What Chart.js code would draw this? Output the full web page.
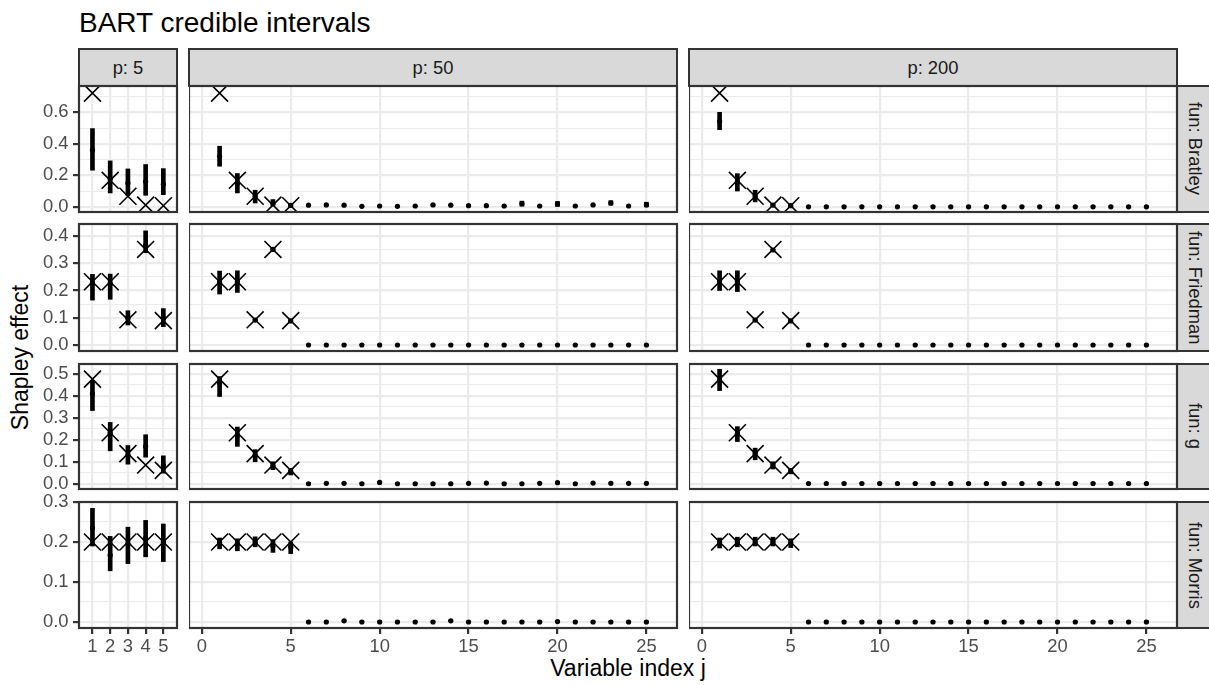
<!DOCTYPE html>
<html><head><meta charset="utf-8">
<script src="https://cdn.jsdelivr.net/npm/chart.js@4/dist/chart.umd.min.js"></script>
<style>
html,body{margin:0;padding:0;background:#fff;}
body{width:1209px;height:685px;overflow:hidden;position:relative;font-family:"Liberation Sans",Arial,Helvetica,sans-serif;}
.abs{position:absolute;white-space:nowrap;}
canvas{position:absolute;}
.strip{position:absolute;background:#D9D9D9;border:2.2px solid #333333;box-sizing:border-box;color:#1A1A1A;font-size:18.4px;display:flex;align-items:center;justify-content:center;overflow:hidden;white-space:nowrap;}
.vstrip{writing-mode:vertical-rl;}
</style></head><body>
<div class="abs" style="left:79px;top:9px;font-size:28px;line-height:28px;color:#000;">BART credible intervals</div>
<div class="abs" style="left:428px;top:657px;width:400px;text-align:center;font-size:23px;line-height:23px;color:#000;">Variable index j</div>
<div class="abs" style="left:-130px;top:345.5px;width:300px;height:23px;text-align:center;font-size:23px;line-height:23px;color:#000;transform:rotate(-90deg);">Shapley effect</div>
<script>
// ---------- data ----------
const facetP = [5, 50, 200];
const facetFun = ['Bratley', 'Friedman', 'g', 'Morris'];
const xIdx5 = [1, 2, 3, 4, 5];
const xIdx25 = [1, 2, 3, 4, 5, 6, 7, 8, 9, 10, 11, 12, 13, 14, 15, 16, 17, 18, 19, 20, 21, 22, 23, 24, 25];
const xTicks5 = [1, 2, 3, 4, 5];
const xTicks25 = [0, 5, 10, 15, 20, 25];
const xRange5 = [0.24, 5.77];
const xRange25 = [-0.72, 26.72];

const yMajorBratley = [0, 0.2, 0.4, 0.6];
const yMinorBratley = [0.1, 0.3, 0.5, 0.7];
const yMajorFriedman = [0, 0.1, 0.2, 0.3, 0.4];
const yMinorFriedman = [0.05, 0.15, 0.25, 0.35];
const yMajorG = [0, 0.1, 0.2, 0.3, 0.4, 0.5];
const yMinorG = [0.05, 0.15, 0.25, 0.35, 0.45];
const yMajorMorris = [0, 0.1, 0.2, 0.3];
const yMinorMorris = [0.05, 0.15, 0.25];
const yRangeBratley = [-0.032, 0.767];
const yRangeFriedman = [-0.021, 0.443];
const yRangeG = [-0.024, 0.545];
const yRangeMorris = [-0.015, 0.300];

// true Shapley effects (crosses)
const trueBratley = [0.722, 0.169, 0.068, 0.012, 0.008];
const trueFriedman = [0.232, 0.232, 0.093, 0.350, 0.090];
const trueG = [0.476, 0.232, 0.137, 0.085, 0.061];
const trueMorris = [0.200, 0.200, 0.200, 0.200, 0.200];

// BART posterior means and credible intervals
const meanBratley5 = [0.360, 0.180, 0.152, 0.161, 0.144];
const loBratley5 = [0.233, 0.089, 0.074, 0.074, 0.078];
const hiBratley5 = [0.497, 0.292, 0.241, 0.269, 0.243];
const meanBratley50 = [0.321, 0.150, 0.068, 0.020, 0.010, 0.011, 0.013, 0.011, 0.004, 0.006, 0.004, 0.006, 0.013, 0.011, 0.008, 0.008, 0.006, 0.021, 0.006, 0.019, 0.006, 0.013, 0.025, 0.006, 0.013];
const loBratley50 = [0.258, 0.089, 0.025, 0.000, 0.004, 0.007, 0.009, 0.007, 0.001, 0.003, 0.001, 0.003, 0.009, 0.007, 0.005, 0.005, 0.003, 0.005, 0.003, 0.003, 0.003, 0.009, 0.011, 0.003, 0.001];
const hiBratley50 = [0.385, 0.212, 0.106, 0.047, 0.018, 0.015, 0.017, 0.015, 0.007, 0.009, 0.007, 0.009, 0.017, 0.015, 0.011, 0.011, 0.009, 0.037, 0.009, 0.035, 0.009, 0.017, 0.040, 0.009, 0.030];
const meanBratley200 = [0.543, 0.160, 0.070, 0.012, 0.008, 0.001, 0.001, 0.001, 0.001, 0.001, 0.001, 0.001, 0.001, 0.001, 0.001, 0.001, 0.001, 0.001, 0.001, 0.001, 0.001, 0.001, 0.001, 0.001, 0.001];
const loBratley200 = [0.490, 0.101, 0.032, 0.005, 0.003, 0.000, 0.000, 0.000, 0.000, 0.000, 0.000, 0.000, 0.000, 0.000, 0.000, 0.000, 0.000, 0.000, 0.000, 0.000, 0.000, 0.000, 0.000, 0.000, 0.000];
const hiBratley200 = [0.600, 0.211, 0.106, 0.020, 0.013, 0.003, 0.003, 0.003, 0.003, 0.003, 0.003, 0.003, 0.003, 0.003, 0.003, 0.003, 0.003, 0.003, 0.003, 0.003, 0.003, 0.003, 0.003, 0.003, 0.003];

const meanFriedman5 = [0.226, 0.225, 0.100, 0.366, 0.100];
const loFriedman5 = [0.165, 0.168, 0.074, 0.338, 0.068];
const hiFriedman5 = [0.259, 0.260, 0.126, 0.418, 0.134];
const meanFriedman50 = [0.230, 0.232, 0.092, 0.350, 0.089, 0.001, 0.001, 0.001, 0.001, 0.001, 0.001, 0.001, 0.001, 0.001, 0.001, 0.001, 0.001, 0.001, 0.001, 0.001, 0.001, 0.001, 0.001, 0.001, 0.001];
const loFriedman50 = [0.187, 0.193, 0.087, 0.345, 0.085, 0.000, 0.000, 0.000, 0.000, 0.000, 0.000, 0.000, 0.000, 0.000, 0.000, 0.000, 0.000, 0.000, 0.000, 0.000, 0.000, 0.000, 0.000, 0.000, 0.000];
const hiFriedman50 = [0.271, 0.272, 0.097, 0.355, 0.093, 0.002, 0.002, 0.002, 0.002, 0.002, 0.002, 0.002, 0.002, 0.002, 0.002, 0.002, 0.002, 0.002, 0.002, 0.002, 0.002, 0.002, 0.002, 0.002, 0.002];
const meanFriedman200 = [0.236, 0.235, 0.092, 0.348, 0.089, 0.001, 0.001, 0.001, 0.001, 0.001, 0.001, 0.001, 0.001, 0.001, 0.001, 0.001, 0.001, 0.001, 0.001, 0.001, 0.001, 0.001, 0.001, 0.001, 0.001];
const loFriedman200 = [0.200, 0.196, 0.088, 0.344, 0.085, 0.000, 0.000, 0.000, 0.000, 0.000, 0.000, 0.000, 0.000, 0.000, 0.000, 0.000, 0.000, 0.000, 0.000, 0.000, 0.000, 0.000, 0.000, 0.000, 0.000];
const hiFriedman200 = [0.272, 0.272, 0.096, 0.352, 0.093, 0.002, 0.002, 0.002, 0.002, 0.002, 0.002, 0.002, 0.002, 0.002, 0.002, 0.002, 0.002, 0.002, 0.002, 0.002, 0.002, 0.002, 0.002, 0.002, 0.002];

const meanG5 = [0.410, 0.230, 0.130, 0.170, 0.085];
const loG5 = [0.333, 0.150, 0.089, 0.121, 0.048];
const hiG5 = [0.470, 0.279, 0.174, 0.223, 0.127];
const meanG50 = [0.458, 0.220, 0.130, 0.083, 0.055, 0.000, 0.002, 0.002, 0.000, 0.006, 0.000, 0.000, 0.000, 0.000, 0.002, 0.003, 0.000, 0.000, 0.002, 0.005, 0.000, 0.003, 0.002, 0.002, 0.002];
const loG50 = [0.397, 0.170, 0.100, 0.064, 0.040, 0.000, 0.000, 0.000, 0.000, 0.003, 0.000, 0.000, 0.000, 0.000, 0.000, 0.001, 0.000, 0.000, 0.000, 0.002, 0.000, 0.001, 0.000, 0.000, 0.000];
const hiG50 = [0.488, 0.258, 0.155, 0.100, 0.070, 0.002, 0.004, 0.004, 0.002, 0.009, 0.002, 0.002, 0.002, 0.002, 0.004, 0.005, 0.002, 0.002, 0.004, 0.008, 0.002, 0.005, 0.004, 0.004, 0.004];
const meanG200 = [0.470, 0.228, 0.138, 0.085, 0.058, 0.001, 0.001, 0.001, 0.001, 0.001, 0.001, 0.001, 0.001, 0.001, 0.001, 0.001, 0.001, 0.001, 0.001, 0.001, 0.001, 0.001, 0.001, 0.001, 0.001];
const loG200 = [0.424, 0.192, 0.109, 0.067, 0.045, 0.000, 0.000, 0.000, 0.000, 0.000, 0.000, 0.000, 0.000, 0.000, 0.000, 0.000, 0.000, 0.000, 0.000, 0.000, 0.000, 0.000, 0.000, 0.000, 0.000];
const hiG200 = [0.521, 0.260, 0.162, 0.100, 0.070, 0.002, 0.002, 0.002, 0.002, 0.002, 0.002, 0.002, 0.002, 0.002, 0.002, 0.002, 0.002, 0.002, 0.002, 0.002, 0.002, 0.002, 0.002, 0.002, 0.002];

const meanMorris5 = [0.235, 0.167, 0.195, 0.210, 0.200];
const loMorris5 = [0.190, 0.128, 0.146, 0.163, 0.151];
const hiMorris5 = [0.284, 0.214, 0.237, 0.254, 0.245];
const meanMorris50 = [0.198, 0.195, 0.200, 0.190, 0.187, 0.000, 0.000, 0.003, 0.000, 0.000, 0.000, 0.000, 0.000, 0.003, 0.000, 0.000, 0.000, 0.000, 0.000, 0.001, 0.000, 0.000, 0.000, 0.000, 0.000];
const loMorris50 = [0.183, 0.178, 0.188, 0.174, 0.171, 0.000, 0.000, 0.001, 0.000, 0.000, 0.000, 0.000, 0.000, 0.001, 0.000, 0.000, 0.000, 0.000, 0.000, 0.000, 0.000, 0.000, 0.000, 0.000, 0.000];
const hiMorris50 = [0.210, 0.208, 0.213, 0.206, 0.200, 0.001, 0.001, 0.005, 0.001, 0.001, 0.001, 0.001, 0.001, 0.005, 0.001, 0.001, 0.001, 0.001, 0.001, 0.003, 0.001, 0.001, 0.001, 0.001, 0.001];
const meanMorris200 = [0.198, 0.200, 0.200, 0.200, 0.198, 0.000, 0.000, 0.000, 0.000, 0.000, 0.000, 0.000, 0.000, 0.000, 0.000, 0.000, 0.000, 0.000, 0.000, 0.000, 0.000, 0.000, 0.000, 0.000, 0.000];
const loMorris200 = [0.185, 0.188, 0.190, 0.190, 0.186, 0.000, 0.000, 0.000, 0.000, 0.000, 0.000, 0.000, 0.000, 0.000, 0.000, 0.000, 0.000, 0.000, 0.000, 0.000, 0.000, 0.000, 0.000, 0.000, 0.000];
const hiMorris200 = [0.210, 0.212, 0.212, 0.212, 0.208, 0.001, 0.001, 0.001, 0.001, 0.001, 0.001, 0.001, 0.001, 0.001, 0.001, 0.001, 0.001, 0.001, 0.001, 0.001, 0.001, 0.001, 0.001, 0.001, 0.001];

// ---------- lookup tables built from the arrays ----------
const funTable = {
  Bratley: {truth: trueBratley, major: yMajorBratley, minor: yMinorBratley, range: yRangeBratley,
    5: [meanBratley5, loBratley5, hiBratley5], 50: [meanBratley50, loBratley50, hiBratley50], 200: [meanBratley200, loBratley200, hiBratley200]},
  Friedman: {truth: trueFriedman, major: yMajorFriedman, minor: yMinorFriedman, range: yRangeFriedman,
    5: [meanFriedman5, loFriedman5, hiFriedman5], 50: [meanFriedman50, loFriedman50, hiFriedman50], 200: [meanFriedman200, loFriedman200, hiFriedman200]},
  g: {truth: trueG, major: yMajorG, minor: yMinorG, range: yRangeG,
    5: [meanG5, loG5, hiG5], 50: [meanG50, loG50, hiG50], 200: [meanG200, loG200, hiG200]},
  Morris: {truth: trueMorris, major: yMajorMorris, minor: yMinorMorris, range: yRangeMorris,
    5: [meanMorris5, loMorris5, hiMorris5], 50: [meanMorris50, loMorris50, hiMorris50], 200: [meanMorris200, loMorris200, hiMorris200]}
};

// ---------- layout (pixels) ----------
const colL = [79, 189, 689], colR = [177, 677, 1177];
const rowT = [86, 224, 364, 502], rowB = [212, 351, 489, 628];
const stripTop = 48;
const FONT = '"Liberation Sans", Arial, Helvetica, sans-serif';
Chart.defaults.font.family = FONT;

const panelBorder = {
  id: 'panelBorder',
  afterDatasetsDraw(chart) {
    const {ctx, chartArea: a} = chart;
    ctx.save();
    ctx.strokeStyle = '#333333';
    ctx.lineWidth = 2.2;
    ctx.strokeRect(a.left, a.top, a.right - a.left, a.bottom - a.top);
    ctx.restore();
  }
};

// strips
facetP.forEach((p, c) => {
  const d = document.createElement('div');
  d.className = 'strip';
  d.style.left = (colL[c] - 1.1) + 'px';
  d.style.top = stripTop + 'px';
  d.style.width = (colR[c] - colL[c] + 2.2) + 'px';
  d.style.height = (rowT[0] - stripTop + 1.1) + 'px';
  d.textContent = 'p: ' + p;
  document.body.appendChild(d);
});
facetFun.forEach((f, r) => {
  const d = document.createElement('div');
  d.className = 'strip vstrip';
  d.style.left = (colR[2] - 1.1) + 'px';
  d.style.top = (rowT[r] - 1.1) + 'px';
  d.style.width = '38px';
  d.style.height = (rowB[r] - rowT[r] + 2.2) + 'px';
  d.textContent = 'fun: ' + f;
  document.body.appendChild(d);
});

function isIn(arr, v) { return arr.some(a => Math.abs(a - v) < 1e-9); }

function makePanel(r, c) {
  const fun = facetFun[r], p = facetP[c];
  const T = funTable[fun];
  const [mean, lo, hi] = T[p];
  const xs = p === 5 ? xIdx5 : xIdx25;
  const xT = p === 5 ? xTicks5 : xTicks25;
  const xR = p === 5 ? xRange5 : xRange25;
  const yAll = T.major.concat(T.minor);
  const L = c === 0 ? 79 : 0;
  const B = r === 3 ? 45 : 0;
  const M = 12, R = 6;
  const w = colR[c] - colL[c] + L + R;
  const h = rowB[r] - rowT[r] + 2 * M + B;
  const cv = document.createElement('canvas');
  cv.width = w; cv.height = h;
  cv.style.width = w + 'px'; cv.style.height = h + 'px';
  cv.style.left = (colL[c] - L) + 'px';
  cv.style.top = (rowT[r] - M) + 'px';
  document.body.appendChild(cv);
  const tickFont = {family: FONT, size: 18.4};
  new Chart(cv, {
    type: 'scatter',
    data: {
      datasets: [
        {type: 'scatter', data: xs.map((x, i) => ({x: x, y: mean[i]})),
         pointRadius: 2.6, pointBackgroundColor: '#000', pointBorderWidth: 0, pointHoverRadius: 2.6, clip: 0},
        {type: 'bar', data: xs.map((x, i) => ({x: x, y: [lo[i], hi[i]]})),
         backgroundColor: '#000', borderWidth: 0, barThickness: 4, clip: 0},
        {type: 'scatter', data: xIdx5.map((x, i) => ({x: x, y: T.truth[i]})),
         pointStyle: 'crossRot', pointRadius: 12, pointHoverRadius: 12, pointBorderColor: '#000',
         pointBackgroundColor: 'rgba(0,0,0,0)', pointBorderWidth: 1.6, clip: 0}
      ]
    },
    options: {
      responsive: false, animation: false, devicePixelRatio: 1,
      events: [],
      layout: {padding: {left: 0, right: R, top: M, bottom: M}, autoPadding: false},
      plugins: {legend: {display: false}, tooltip: {enabled: false}, title: {display: false}},
      scales: {
        x: {
          type: 'linear', position: 'bottom', min: xR[0], max: xR[1], offset: false,
          afterBuildTicks: s => { s.ticks = xT.map(v => ({value: v})); },
          afterFit: s => { s.height = B; s.paddingLeft = 0; s.paddingRight = 0; },
          ticks: {display: r === 3, autoSkip: false, maxRotation: 0, minRotation: 0, padding: 2,
                  color: '#4D4D4D', font: tickFont, callback: v => String(v)},
          grid: {offset: false, color: '#EBEBEB', lineWidth: 2.2, drawTicks: r === 3, tickLength: 6,
                 tickColor: '#333333', tickWidth: 2.2},
          border: {display: false}
        },
        y: {
          type: 'linear', position: 'left', min: T.range[0], max: T.range[1],
          afterBuildTicks: s => { s.ticks = yAll.map(v => ({value: v})); },
          afterFit: s => { s.width = L; s.paddingTop = 0; s.paddingBottom = 0; },
          ticks: {display: c === 0, autoSkip: false, padding: 4.5, color: '#4D4D4D', font: tickFont,
                  callback: v => isIn(T.major, v) ? v.toFixed(1) : ''},
          grid: {offset: false, color: '#EBEBEB',
                 lineWidth: ctx => isIn(T.major, ctx.tick.value) ? 2.2 : 1.1,
                 drawTicks: c === 0, tickLength: 6,
                 tickColor: ctx => isIn(T.major, ctx.tick.value) ? '#333333' : 'rgba(0,0,0,0)',
                 tickWidth: 2.2},
          border: {display: false}
        }
      }
    },
    plugins: [panelBorder]
  });
}

for (let r = 0; r < 4; r++) for (let c = 0; c < 3; c++) makePanel(r, c);
</script>
</body></html>
